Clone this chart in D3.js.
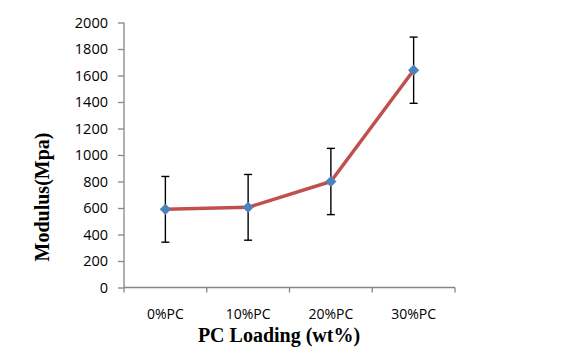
<!DOCTYPE html>
<html>
<head>
<meta charset="utf-8">
<script src="https://cdn.jsdelivr.net/npm/d3@7"></script>
<style>
  body { margin: 0; background: #fff; }
  svg { display: block; }
</style>
</head>
<body>
<svg id="graf" width="579" height="358"></svg>
<script>
const categorias = ["0%PC", "10%PC", "20%PC", "30%PC"];
const modulo = [590, 605, 800, 1640];
const error = [248, 248, 250, 250];
const ticksY = [0, 200, 400, 600, 800, 1000, 1200, 1400, 1600, 1800, 2000];

const svg = d3.select("#graf");
const x = d3.scaleBand().domain(categorias).range([124, 455]);
const y = d3.scaleLinear().domain([0, 2000]).range([287.5, 22.5]);
const fuente = "'Open Sans', sans-serif";

// eje y
const ejeY = svg.append("g")
  .attr("transform", "translate(124,0)")
  .call(d3.axisLeft(y).tickValues(ticksY).tickFormat(d3.format("d")).tickSize(6).tickPadding(10));
ejeY.selectAll("line, path").attr("stroke", "#868686").attr("stroke-width", 1.3);
ejeY.select(".domain").attr("d", "M0,22.5V287.5");
ejeY.selectAll("text")
  .attr("font-family", fuente)
  .attr("font-size", 14.5).attr("fill", "#000");

// eje x con marcas en los bordes de cada categoria
const ejeX = svg.append("g").attr("transform", "translate(0,287.5)");
ejeX.append("line").attr("x1", 124).attr("x2", 455).attr("stroke", "#868686").attr("stroke-width", 1.3);
const bordes = categorias.map(c => x(c)).concat([x.range()[1]]);
ejeX.selectAll("line.marca").data(bordes).enter().append("line")
  .attr("class", "marca")
  .attr("x1", d => d).attr("x2", d => d).attr("y1", 0).attr("y2", 5)
  .attr("stroke", "#868686").attr("stroke-width", 1.3);
ejeX.selectAll("text").data(categorias).enter().append("text")
  .attr("x", d => x(d) + x.bandwidth() / 2).attr("y", 31.5)
  .attr("text-anchor", "middle")
  .attr("font-family", fuente)
  .attr("font-size", 14).text(d => d);

// titulos
svg.append("text").attr("x", 279).attr("y", 341.5).attr("text-anchor", "middle")
  .attr("font-family", "'Liberation Serif', serif").attr("font-weight", "bold")
  .attr("font-size", 20).text("PC Loading (wt%)");
svg.append("text").attr("transform", "translate(49,197) rotate(-90)").attr("text-anchor", "middle")
  .attr("font-family", "'Liberation Serif', serif").attr("font-weight", "bold")
  .attr("font-size", 20).text("Modulus(Mpa)");

const datos = categorias.map((c, i) => ({ c: c, v: modulo[i], e: error[i] }));
const cx = d => x(d.c) + x.bandwidth() / 2;

// barras de error
const barras = svg.append("g").attr("stroke", "#000").attr("stroke-width", 1.4);
datos.forEach(d => {
  barras.append("line").attr("x1", cx(d)).attr("x2", cx(d)).attr("y1", y(d.v - d.e)).attr("y2", y(d.v + d.e));
  barras.append("line").attr("x1", cx(d) - 4).attr("x2", cx(d) + 4).attr("y1", y(d.v - d.e)).attr("y2", y(d.v - d.e));
  barras.append("line").attr("x1", cx(d) - 4).attr("x2", cx(d) + 4).attr("y1", y(d.v + d.e)).attr("y2", y(d.v + d.e));
});

// linea
const line = d3.line().x(cx).y(d => y(d.v));
svg.append("path").datum(datos)
  .attr("fill", "none").attr("stroke", "#C0504D").attr("stroke-width", 3.5)
  .attr("stroke-linejoin", "round").attr("d", line);

// marcadores
svg.selectAll("path.marcador").data(datos).enter().append("path")
  .attr("class", "marcador")
  .attr("d", d3.symbol().type(d3.symbolDiamond2).size(80))
  .attr("transform", d => `translate(${cx(d)},${y(d.v)})`)
  .attr("fill", "#4F81BD");
</script>
</body>
</html>
